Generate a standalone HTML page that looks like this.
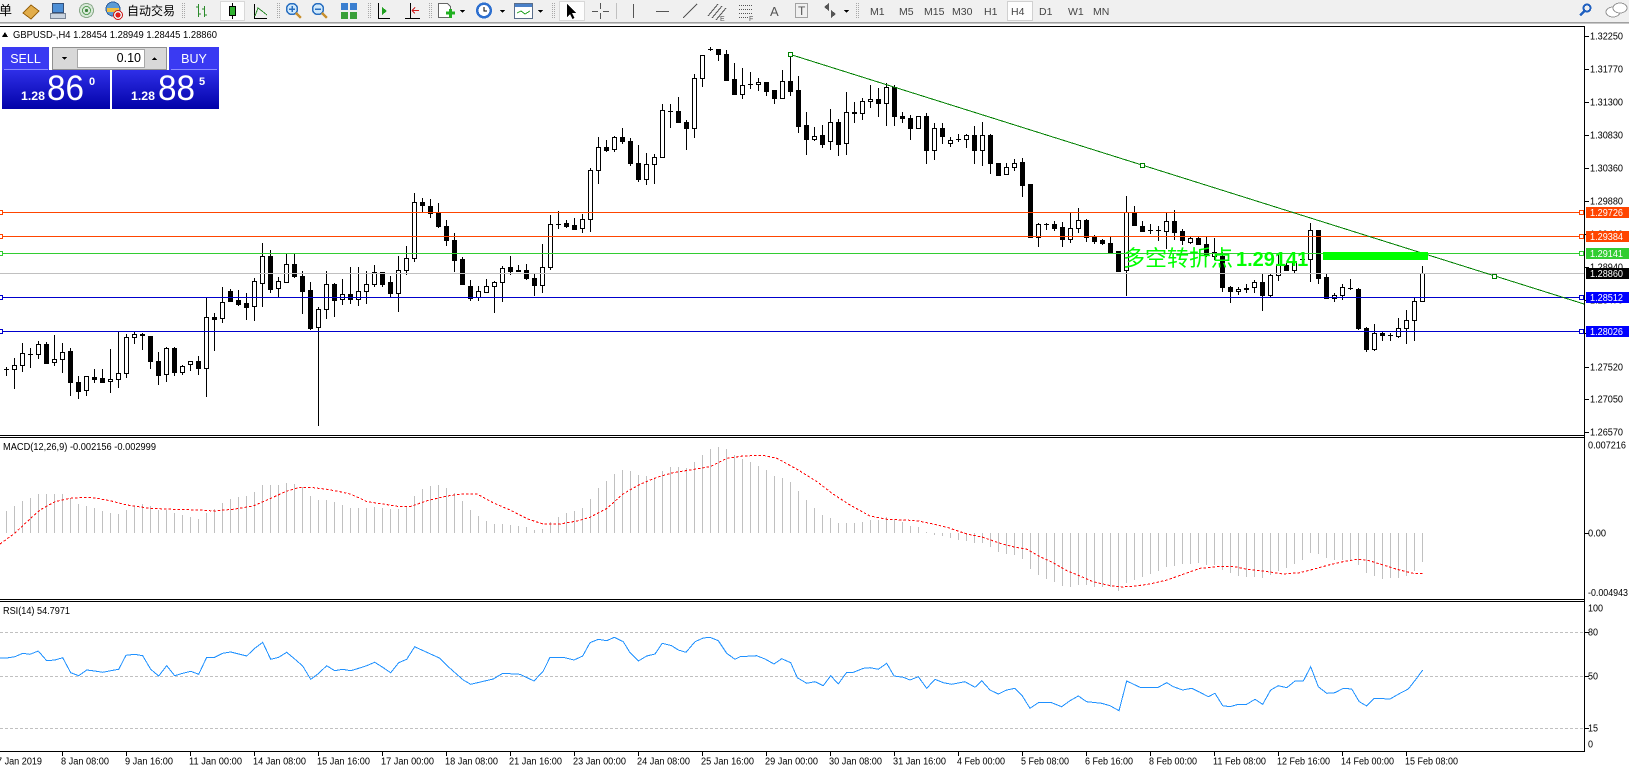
<!DOCTYPE html>
<html><head><meta charset="utf-8"><style>
html,body{margin:0;padding:0;background:#fff;width:1629px;height:770px;overflow:hidden}
svg{display:block}
text{font-family:"Liberation Sans","Noto Sans CJK SC",sans-serif}
</style></head><body>
<svg xmlns="http://www.w3.org/2000/svg" width="1629" height="770" viewBox="0 0 1629 770" shape-rendering="crispEdges">
<defs>
<linearGradient id="bg" x1="0" y1="0" x2="0" y2="1"><stop offset="0" stop-color="#2f2fe8"/><stop offset="1" stop-color="#0202a8"/></linearGradient>
</defs>
<rect width="1629" height="770" fill="#fff"/>
<!-- toolbar -->
<rect width="1629" height="22" fill="#f0f0f0"/>
<rect y="22" width="1629" height="1" fill="#a0a0a0"/>
<rect y="23" width="1629" height="1" fill="#c8c8c8"/>
<text x="-1" y="15" font-size="13">单</text>
<path d="M23 13L31 5L39 11L31 19Z" fill="#e2ad4a" stroke="#9a6510"/>
<rect x="52.5" y="3.5" width="11" height="9" fill="#4d8fd6" stroke="#33507a"/><rect x="50.5" y="13.5" width="15" height="5" fill="#c9d3df" stroke="#7a8696"/>
<circle cx="86.5" cy="10.5" r="7" fill="#d8e8d8" stroke="#88a888"/><circle cx="86.5" cy="10.5" r="4" fill="none" stroke="#5aa05a"/><circle cx="86.5" cy="10.5" r="1.5" fill="#3a803a"/>
<circle cx="113" cy="9" r="7" fill="#5b9bd5" stroke="#2f5f9f"/><path d="M107 8h12v4h-12z" fill="#f0c040"/><circle cx="118" cy="15" r="4.5" fill="#e8e8e8" stroke="#d02020"/><circle cx="118" cy="15" r="2.5" fill="#e02020"/>
<text x="127" y="15" font-size="12">自动交易</text>
<path d="M182.5 3V19M184.5 3V19M277.5 3V19M279.5 3V19M368.5 3V19M370.5 3V19M429.5 3V19M431.5 3V19M552.5 3V19M554.5 3V19M856.5 3V19M858.5 3V19" stroke="#a8a8a8" stroke-dasharray="1 1"/>
<path d="M616.5 3V19" stroke="#c0c0c0"/>
<path d="M198.5 4V17M196 7h2.5M198.5 14h2.5M204.5 6V17M202 9h2.5M204.5 15h2.5" stroke="#2a8a2a"/>
<rect x="220.5" y="1.5" width="24" height="19" fill="#fdfdfd" stroke="#d8d8d8"/><path d="M232.5 3V19" stroke="#000"/><rect x="229.5" y="6.5" width="6" height="9" fill="#30b030" stroke="#000"/>
<path d="M254.5 4V18.5H267" stroke="#000" fill="none"/><path d="M255 16L258 8L262 11L267 15" stroke="#2a8a2a" fill="none"/>
<circle cx="292" cy="9" r="5.5" fill="#cfe8fb" stroke="#2a6fc0" stroke-width="1.5"/><path d="M296 13L301 18" stroke="#c89030" stroke-width="2.5"/><path d="M289 9h6M292 6v6" stroke="#2a6fc0" stroke-width="1.5"/>
<circle cx="318" cy="9" r="5.5" fill="#cfe8fb" stroke="#2a6fc0" stroke-width="1.5"/><path d="M322 13L327 18" stroke="#c89030" stroke-width="2.5"/><path d="M315 9h6" stroke="#2a6fc0" stroke-width="1.5"/>
<rect x="341" y="3" width="7" height="7" fill="#3a7fd0"/><rect x="350" y="3" width="7" height="7" fill="#3a7fd0"/><rect x="341" y="12" width="7" height="7" fill="#3aa03a"/><rect x="350" y="12" width="7" height="7" fill="#3aa03a"/>
<path d="M378.5 3V18.5H390" stroke="#000" fill="none"/><path d="M382 7L387 11L382 15Z" fill="#20a020"/>
<path d="M410.5 3V19M405 18.5H420" stroke="#000"/><path d="M412 10.5H419M412 10.5l3-3M412 10.5l3 3" stroke="#d02020"/>
<path d="M438.5 3.5h9l3 3v11h-12z" fill="#fff" stroke="#666"/><path d="M446 13h9M450.5 9v9" stroke="#20b020" stroke-width="3"/><path d="M460 10h5l-2.5 3z" fill="#000"/>
<circle cx="484" cy="10.5" r="8" fill="#2d6fcf"/><circle cx="484" cy="10.5" r="5.5" fill="#fff"/><path d="M484 7v4h3" stroke="#000" fill="none"/><path d="M500 10h5l-2.5 3z" fill="#000"/>
<rect x="514.5" y="3.5" width="18" height="15" fill="#fff" stroke="#5a6e8a"/><rect x="515" y="4" width="17" height="3" fill="#4a80c8"/><path d="M517 13l4-2 4 3 5-3" stroke="#20a020" fill="none"/><path d="M538 10h5l-2.5 3z" fill="#000"/>
<rect x="559.5" y="1.5" width="25" height="19" fill="#fdfdfd" stroke="#d8d8d8"/><path d="M567 4v13l3-3 2.5 5 2-1-2.5-5h4z" fill="#000"/>
<path d="M600.5 3V9M600.5 13V19M592 11.5H598M603 11.5H609" stroke="#555"/>
<path d="M633.5 4V18M656 11.5h13" stroke="#555"/>
<path d="M683 18L697 4M708 16L718 4M712 18L722 6M716 20L726 8" stroke="#555"/>
<text x="720" y="21" font-size="7" fill="#555">E</text>
<path d="M739 5.5h13M739 9.5h13M739 13.5h13M739 17.5h9" stroke="#555" stroke-dasharray="1 1"/>
<text x="749" y="21" font-size="7" fill="#555">F</text>
<text x="770" y="16" font-size="13" fill="#555">A</text>
<rect x="795.5" y="3.5" width="12" height="14" fill="none" stroke="#555" stroke-dasharray="1 1"/><text x="798" y="15" font-size="12" fill="#555">T</text>
<path d="M824 7l5-4v8z M836 14l-5 4v-8z" fill="#555"/><path d="M844 10h5l-2.5 3z" fill="#000"/>
<rect x="1007.5" y="1.5" width="25" height="19" fill="#fdfdfd" stroke="#d0d0d0"/>
<g font-size="10.5" fill="#444">
<text x="870" y="15">M1</text><text x="899" y="15">M5</text><text x="924" y="15">M15</text><text x="952" y="15">M30</text><text x="984" y="15">H1</text><text x="1011" y="15">H4</text><text x="1039" y="15">D1</text><text x="1068" y="15">W1</text><text x="1093" y="15">MN</text>
</g>
<circle cx="1587" cy="8" r="3.5" fill="none" stroke="#2060c0" stroke-width="2"/><path d="M1584.5 11L1580 15.5" stroke="#2060c0" stroke-width="2.5"/>
<ellipse cx="1613" cy="12" rx="7" ry="5" fill="#fff" stroke="#999"/><ellipse cx="1620" cy="8" rx="7" ry="5" fill="#fff" stroke="#999"/>

<!-- window frames -->
<path d="M0 26.5H1584.5V751.5H0M0 435.5H1584.5M0 437.5H1584.5M0 599.5H1584.5M0 601.5H1584.5" stroke="#000" fill="none"/>

<!-- price axis -->
<path d="M1585 36.5h4M1585 69.5h4M1585 102.5h4M1585 135.5h4M1585 168.5h4M1585 201.5h4M1585 234.5h4M1585 267.5h4M1585 300.5h4M1585 333.5h4M1585 367.5h4M1585 399.5h4M1585 432.5h4" stroke="#000"/>
<g font-size="10" fill="#000" lengthAdjust="spacingAndGlyphs">
<text x="1590" y="39.5" textLength="33" lengthAdjust="spacingAndGlyphs">1.32250</text>
<text x="1590" y="72.5" textLength="33" lengthAdjust="spacingAndGlyphs">1.31770</text>
<text x="1590" y="105.5" textLength="33" lengthAdjust="spacingAndGlyphs">1.31300</text>
<text x="1590" y="138.5" textLength="33" lengthAdjust="spacingAndGlyphs">1.30830</text>
<text x="1590" y="171.5" textLength="33" lengthAdjust="spacingAndGlyphs">1.30360</text>
<text x="1590" y="204.5" textLength="33" lengthAdjust="spacingAndGlyphs">1.29880</text>
<text x="1590" y="237.5" textLength="33" lengthAdjust="spacingAndGlyphs">1.29410</text>
<text x="1590" y="270.5" textLength="33" lengthAdjust="spacingAndGlyphs">1.28940</text>
<text x="1590" y="303.5" textLength="33" lengthAdjust="spacingAndGlyphs">1.28470</text>
<text x="1590" y="336.5" textLength="33" lengthAdjust="spacingAndGlyphs">1.28000</text>
<text x="1590" y="370.5" textLength="33" lengthAdjust="spacingAndGlyphs">1.27520</text>
<text x="1590" y="402.5" textLength="33" lengthAdjust="spacingAndGlyphs">1.27050</text>
<text x="1590" y="435.5" textLength="33" lengthAdjust="spacingAndGlyphs">1.26570</text>
</g>

<!-- candles -->
<path d="M-1.5 369V382M6.5 367V376M14.5 358V389M22.5 343V372M30.5 348V368M38.5 341V359M46.5 342V364M54.5 335V366M62.5 343V373M70.5 348V396M78.5 376V399M86.5 376V396M94.5 369V383M102.5 369V383M110.5 349V393M118.5 331V388M126.5 334V378M134.5 331V344M142.5 333V350M150.5 336V369M158.5 352V385M166.5 347V382M174.5 347V376M182.5 365V375M190.5 361V371M198.5 356V375M206.5 297V397M214.5 313V351M222.5 287V323M230.5 289V301M238.5 290V306M246.5 293V320M254.5 278V321M262.5 243V307M270.5 250V293M278.5 277V297M286.5 253V282M294.5 253V278M302.5 271V314M310.5 282V330M318.5 307V426M326.5 271V319M334.5 283V317M342.5 279V305M350.5 267V304M358.5 267V306M366.5 271V304M374.5 265V287M382.5 272V287M390.5 276V298M398.5 256V312M406.5 246V275M414.5 193V262M422.5 198V213M430.5 199V218M438.5 203V228M446.5 220V246M454.5 233V272M462.5 257V285M470.5 280V301M478.5 286V301M486.5 279V293M494.5 281V313M502.5 266V302M510.5 256V275M518.5 265V272M526.5 264V280M534.5 274V296M542.5 244V293M550.5 215V270M558.5 211V229M566.5 220V228M574.5 218V230M582.5 214V233M590.5 168V232M598.5 137V184M606.5 140V152M614.5 136V152M622.5 128V144M630.5 138V166M638.5 145V182M646.5 153V185M654.5 154V184M662.5 104V158M670.5 104V128M678.5 97V123M686.5 120V150M694.5 74V138M702.5 55V87M710.5 47V51M718.5 49V61M726.5 50V80M734.5 63V94M742.5 68V99M750.5 72V89M758.5 78V91M766.5 82V96M774.5 90V104M782.5 70V98M790.5 54V96M798.5 76V133M806.5 112V155M814.5 127V141M822.5 125V148M830.5 109V150M838.5 119V156M846.5 92V155M854.5 102V123M862.5 98V120M870.5 85V108M878.5 88V117M886.5 83V126M894.5 85V126M902.5 112V123M910.5 115V140M918.5 116V129M926.5 113V164M934.5 123V160M942.5 123V144M950.5 137V147M958.5 134V142M966.5 134V148M974.5 126V164M982.5 122V166M990.5 134V174M998.5 163V175M1006.5 163V174M1014.5 159V171M1022.5 158V197M1030.5 184V238M1038.5 223V247M1046.5 223V230M1054.5 221V231M1062.5 222V247M1070.5 212V243M1078.5 208V233M1086.5 219V242M1094.5 235V244M1102.5 239V245M1110.5 237V253M1118.5 251V271M1126.5 196V296M1134.5 206V225M1142.5 221V232M1150.5 224V234M1158.5 226V241M1166.5 213V249M1174.5 210V240M1182.5 229V245M1190.5 236V244M1198.5 237V245M1206.5 236V257M1214.5 238V260M1222.5 252V292M1230.5 286V303M1238.5 287V295M1246.5 284V293M1254.5 280V293M1262.5 274V311M1270.5 273V298M1278.5 255V281M1286.5 263V271M1294.5 260V273M1302.5 256V261M1310.5 223V282M1318.5 230V284M1326.5 273V299M1334.5 293V302M1342.5 284V300M1350.5 279V290M1358.5 288V330M1366.5 327V352M1374.5 324V351M1382.5 331V341M1390.5 333V341M1398.5 318V338M1406.5 310V344M1414.5 298V341M1422.5 266V302" stroke="#000" fill="none"/>
<path d="M4 369.5h5M28 354.5h5M556 224.5h5M668 111.5h5M708 49.5h5M748 84.5h5M956 139.5h5M1044 224.5h5M1148 230.5h5M1156 230.5h5M1300 259.5h5M1348 288.5h5M1388 335.5h5" stroke="#000" fill="none"/>
<path fill="#fff" stroke="#000" d="M12.5 365.5h4v4h-4zM20.5 353.5h4v12h-4zM36.5 344.5h4v10h-4zM52.5 359.5h4v3h-4zM60.5 352.5h4v7h-4zM84.5 376.5h4v14h-4zM108.5 379.5h4v2h-4zM116.5 373.5h4v6h-4zM124.5 337.5h4v36h-4zM132.5 334.5h4v3h-4zM164.5 348.5h4v26h-4zM180.5 366.5h4v6h-4zM188.5 361.5h4v3h-4zM204.5 317.5h4v51h-4zM220.5 302.5h4v16h-4zM252.5 281.5h4v25h-4zM260.5 256.5h4v27h-4zM276.5 281.5h4v7h-4zM284.5 264.5h4v18h-4zM316.5 309.5h4v18h-4zM324.5 284.5h4v25h-4zM340.5 294.5h4v5h-4zM356.5 291.5h4v8h-4zM364.5 284.5h4v7h-4zM372.5 272.5h4v12h-4zM396.5 270.5h4v23h-4zM404.5 258.5h4v12h-4zM412.5 202.5h4v56h-4zM476.5 291.5h4v6h-4zM484.5 286.5h4v6h-4zM492.5 282.5h4v4h-4zM500.5 268.5h4v14h-4zM540.5 267.5h4v18h-4zM548.5 224.5h4v43h-4zM580.5 219.5h4v9h-4zM588.5 170.5h4v49h-4zM596.5 147.5h4v23h-4zM612.5 137.5h4v12h-4zM644.5 164.5h4v15h-4zM652.5 157.5h4v7h-4zM660.5 110.5h4v47h-4zM692.5 78.5h4v50h-4zM700.5 55.5h4v23h-4zM740.5 85.5h4v9h-4zM756.5 82.5h4v2h-4zM780.5 81.5h4v17h-4zM812.5 136.5h4v3h-4zM828.5 122.5h4v19h-4zM844.5 112.5h4v31h-4zM860.5 101.5h4v12h-4zM868.5 99.5h4v2h-4zM884.5 87.5h4v16h-4zM916.5 116.5h4v12h-4zM932.5 128.5h4v22h-4zM948.5 140.5h4v3h-4zM964.5 135.5h4v4h-4zM980.5 135.5h4v15h-4zM1004.5 167.5h4v7h-4zM1012.5 163.5h4v4h-4zM1036.5 224.5h4v13h-4zM1068.5 228.5h4v11h-4zM1076.5 220.5h4v8h-4zM1124.5 212.5h4v58h-4zM1164.5 221.5h4v10h-4zM1188.5 238.5h4v4h-4zM1212.5 252.5h4v4h-4zM1236.5 289.5h4v2h-4zM1252.5 282.5h4v5h-4zM1268.5 275.5h4v20h-4zM1276.5 265.5h4v10h-4zM1292.5 262.5h4v8h-4zM1308.5 230.5h4v29h-4zM1332.5 295.5h4v3h-4zM1340.5 287.5h4v8h-4zM1372.5 333.5h4v16h-4zM1396.5 328.5h4v8h-4zM1404.5 320.5h4v8h-4zM1412.5 301.5h4v19h-4zM1420.5 273.5h4v28h-4z"/>
<path fill="#000" stroke="#000" d="M44.5 344.5h4v19h-4zM68.5 351.5h4v31h-4zM76.5 382.5h4v9h-4zM92.5 377.5h4v2h-4zM100.5 378.5h4v4h-4zM140.5 334.5h4v1h-4zM148.5 336.5h4v25h-4zM156.5 361.5h4v14h-4zM172.5 348.5h4v24h-4zM196.5 361.5h4v7h-4zM212.5 317.5h4v2h-4zM228.5 291.5h4v10h-4zM236.5 300.5h4v4h-4zM244.5 303.5h4v4h-4zM268.5 256.5h4v33h-4zM292.5 264.5h4v12h-4zM300.5 276.5h4v15h-4zM308.5 290.5h4v38h-4zM332.5 284.5h4v16h-4zM348.5 294.5h4v5h-4zM380.5 272.5h4v12h-4zM388.5 282.5h4v11h-4zM420.5 202.5h4v3h-4zM428.5 206.5h4v7h-4zM436.5 213.5h4v13h-4zM444.5 226.5h4v14h-4zM452.5 240.5h4v20h-4zM460.5 259.5h4v25h-4zM468.5 286.5h4v12h-4zM508.5 267.5h4v4h-4zM516.5 270.5h4v1h-4zM524.5 270.5h4v8h-4zM532.5 278.5h4v7h-4zM564.5 223.5h4v3h-4zM572.5 225.5h4v4h-4zM604.5 147.5h4v3h-4zM620.5 137.5h4v4h-4zM628.5 141.5h4v22h-4zM636.5 163.5h4v16h-4zM676.5 111.5h4v11h-4zM684.5 122.5h4v6h-4zM716.5 49.5h4v5h-4zM724.5 54.5h4v26h-4zM732.5 79.5h4v15h-4zM764.5 82.5h4v9h-4zM772.5 90.5h4v8h-4zM788.5 81.5h4v10h-4zM796.5 90.5h4v36h-4zM804.5 125.5h4v14h-4zM820.5 135.5h4v9h-4zM836.5 122.5h4v22h-4zM852.5 112.5h4v1h-4zM876.5 99.5h4v4h-4zM892.5 87.5h4v29h-4zM900.5 116.5h4v2h-4zM908.5 118.5h4v10h-4zM924.5 116.5h4v34h-4zM940.5 128.5h4v8h-4zM972.5 135.5h4v15h-4zM988.5 135.5h4v28h-4zM996.5 163.5h4v12h-4zM1020.5 162.5h4v23h-4zM1028.5 184.5h4v53h-4zM1052.5 224.5h4v4h-4zM1060.5 227.5h4v12h-4zM1084.5 220.5h4v17h-4zM1092.5 237.5h4v4h-4zM1100.5 240.5h4v3h-4zM1108.5 243.5h4v10h-4zM1116.5 251.5h4v20h-4zM1132.5 212.5h4v13h-4zM1140.5 226.5h4v5h-4zM1172.5 221.5h4v11h-4zM1180.5 231.5h4v9h-4zM1196.5 238.5h4v6h-4zM1204.5 244.5h4v11h-4zM1220.5 256.5h4v31h-4zM1228.5 287.5h4v4h-4zM1244.5 288.5h4v1h-4zM1260.5 282.5h4v13h-4zM1284.5 265.5h4v5h-4zM1316.5 230.5h4v48h-4zM1324.5 277.5h4v21h-4zM1356.5 289.5h4v39h-4zM1364.5 328.5h4v21h-4zM1380.5 333.5h4v2h-4z"/>

<!-- horizontal lines -->
<path d="M0 212.5H1584M0 236.5H1584" stroke="#ff4500"/>
<path d="M0 253.5H1584" stroke="#32cd32"/>
<path d="M0 273.5H1584" stroke="#c0c0c0"/>
<path d="M0 297.5H1584M0 331.5H1584" stroke="#0000cd"/>
<g fill="#fff">
<rect x="-1.5" y="210.5" width="4" height="4" stroke="#ff4500"/><rect x="1579.5" y="210.5" width="4" height="4" stroke="#ff4500"/>
<rect x="-1.5" y="234.5" width="4" height="4" stroke="#ff4500"/><rect x="1579.5" y="234.5" width="4" height="4" stroke="#ff4500"/>
<rect x="-1.5" y="251.5" width="4" height="4" stroke="#32cd32"/><rect x="1579.5" y="251.5" width="4" height="4" stroke="#32cd32"/>
<rect x="-1.5" y="295.5" width="4" height="4" stroke="#0000cd"/><rect x="1579.5" y="295.5" width="4" height="4" stroke="#0000cd"/>
<rect x="-1.5" y="329.5" width="4" height="4" stroke="#0000cd"/><rect x="1579.5" y="329.5" width="4" height="4" stroke="#0000cd"/>
</g>
<!-- trendline -->
<path d="M790.5 54.5L1584 304" stroke="#008000" fill="none"/>
<g fill="#fff" stroke="#008000">
<rect x="788.5" y="52.5" width="4" height="4"/><rect x="1140.5" y="163.5" width="4" height="4"/><rect x="1492.5" y="274.5" width="4" height="4"/>
</g>
<rect x="1323" y="252" width="105" height="8" fill="#00ff00"/>
<text x="1123" y="266" fill="#00ff00"><tspan font-size="22">多空转折点</tspan><tspan x="1236" font-size="20" font-weight="bold">1.29141</tspan></text>

<!-- price labels -->
<rect x="1586" y="207" width="43" height="11" fill="#ff4500"/>
<rect x="1586" y="231" width="43" height="11" fill="#ff4500"/>
<rect x="1586" y="248" width="43" height="11" fill="#32cd32"/>
<rect x="1586" y="268" width="43" height="11" fill="#000"/>
<rect x="1586" y="292" width="43" height="11" fill="#0000ff"/>
<rect x="1586" y="326" width="43" height="11" fill="#0000ff"/>
<g font-size="10" fill="#fff">
<text x="1590" y="216" textLength="33" lengthAdjust="spacingAndGlyphs">1.29726</text>
<text x="1590" y="240" textLength="33" lengthAdjust="spacingAndGlyphs">1.29384</text>
<text x="1590" y="257" textLength="33" lengthAdjust="spacingAndGlyphs">1.29141</text>
<text x="1590" y="277" textLength="33" lengthAdjust="spacingAndGlyphs">1.28860</text>
<text x="1590" y="301" textLength="33" lengthAdjust="spacingAndGlyphs">1.28512</text>
<text x="1590" y="335" textLength="33" lengthAdjust="spacingAndGlyphs">1.28026</text>
</g>

<!-- header -->
<path d="M2 37H8L5 32Z" fill="#000"/>
<text x="13" y="38" font-size="10" textLength="204" lengthAdjust="spacingAndGlyphs">GBPUSD-,H4 1.28454 1.28949 1.28445 1.28860</text>

<!-- trade panel -->
<path d="M2 70H110V109H2Z" fill="url(#bg)"/>
<path d="M112 70H219V109H112Z" fill="url(#bg)"/>
<rect x="2" y="47" width="47" height="23" fill="#3a3af2"/>
<rect x="169" y="47" width="50" height="23" fill="#3a3af2"/>
<path d="M4 69.5H48M171 69.5H217" stroke="#8c8cff"/>
<rect x="52.5" y="47.5" width="114" height="22" fill="#d8d8d8" stroke="#909090"/>
<rect x="77.5" y="49.5" width="67" height="18" fill="#fff" stroke="#a8a8a8"/>
<path d="M62 57h5l-2.5 3z" fill="#000"/><path d="M152 60h5l-2.5-3z" fill="#000"/>
<text x="141" y="62" font-size="12.5" text-anchor="end">0.10</text>
<text x="25.5" y="63" font-size="12.5" fill="#fff" text-anchor="middle">SELL</text>
<text x="194" y="63" font-size="12.5" fill="#fff" text-anchor="middle">BUY</text>
<g fill="#fff">
<text x="21" y="100" font-size="12" font-weight="bold" textLength="24" lengthAdjust="spacingAndGlyphs">1.28</text>
<text x="47" y="100" font-size="35" textLength="37" lengthAdjust="spacingAndGlyphs">86</text>
<text x="89" y="85" font-size="11" font-weight="bold">0</text>
<text x="131" y="100" font-size="12" font-weight="bold" textLength="24" lengthAdjust="spacingAndGlyphs">1.28</text>
<text x="158" y="100" font-size="35" textLength="37" lengthAdjust="spacingAndGlyphs">88</text>
<text x="199" y="85" font-size="11" font-weight="bold">5</text>
</g>

<!-- MACD -->
<text x="3" y="450" font-size="10" textLength="153" lengthAdjust="spacingAndGlyphs">MACD(12,26,9) -0.002156 -0.002999</text>
<path stroke="#c0c0c0" fill="none" d="M6.5 533V511M14.5 533V506M22.5 533V501M30.5 533V498M38.5 533V494M46.5 533V494M54.5 533V494M62.5 533V494M70.5 533V498M78.5 533V504M86.5 533V506M94.5 533V508M102.5 533V511M110.5 533V513M118.5 533V514M126.5 533V510M134.5 533V506M142.5 533V504M150.5 533V506M158.5 533V510M166.5 533V510M174.5 533V513M182.5 533V515M190.5 533V517M198.5 533V519M206.5 533V513M214.5 533V509M222.5 533V503M230.5 533V499M238.5 533V497M246.5 533V496M254.5 533V492M262.5 533V485M270.5 533V485M278.5 533V485M286.5 533V483M294.5 533V484M302.5 533V487M310.5 533V496M318.5 533V500M326.5 533V500M334.5 533V502M342.5 533V505M350.5 533V508M358.5 533V508M366.5 533V508M374.5 533V507M382.5 533V508M390.5 533V509M398.5 533V509M406.5 533V507M414.5 533V496M422.5 533V489M430.5 533V486M438.5 533V485M446.5 533V488M454.5 533V493M462.5 533V501M470.5 533V510M478.5 533V516M486.5 533V521M494.5 533V524M502.5 533V524M510.5 533V525M518.5 533V526M526.5 533V527M534.5 533V530M542.5 533V529M550.5 533V522M558.5 533V517M566.5 533V513M574.5 533V511M582.5 533V508M590.5 533V499M598.5 533V488M606.5 533V481M614.5 533V474M622.5 533V470M630.5 533V471M638.5 533V475M646.5 533V476M654.5 533V478M662.5 533V471M670.5 533V467M678.5 533V467M686.5 533V468M694.5 533V462M702.5 533V455M710.5 533V449M718.5 533V447M726.5 533V449M734.5 533V455M742.5 533V459M750.5 533V462M758.5 533V466M766.5 533V470M774.5 533V476M782.5 533V478M790.5 533V482M798.5 533V491M806.5 533V500M814.5 533V508M822.5 533V515M830.5 533V518M838.5 533V523M846.5 533V523M854.5 533V523M862.5 533V522M870.5 533V520M878.5 533V520M886.5 533V517M894.5 533V520M902.5 533V522M910.5 533V526M918.5 533V527M926.5 533V532M934.5 533V535M942.5 533V536M950.5 533V538M958.5 533V540M966.5 533V541M974.5 533V543M982.5 533V543M990.5 533V547M998.5 533V552M1006.5 533V554M1014.5 533V555M1022.5 533V559M1030.5 533V569M1038.5 533V575M1046.5 533V579M1054.5 533V582M1062.5 533V586M1070.5 533V587M1078.5 533V585M1086.5 533V585M1094.5 533V587M1102.5 533V587M1110.5 533V587M1118.5 533V591M1126.5 533V583M1134.5 533V580M1142.5 533V577M1150.5 533V574M1158.5 533V571M1166.5 533V567M1174.5 533V566M1182.5 533V564M1190.5 533V564M1198.5 533V563M1206.5 533V565M1214.5 533V565M1222.5 533V570M1230.5 533V573M1238.5 533V576M1246.5 533V577M1254.5 533V577M1262.5 533V578M1270.5 533V575M1278.5 533V571M1286.5 533V568M1294.5 533V564M1302.5 533V560M1310.5 533V553M1318.5 533V554M1326.5 533V558M1334.5 533V560M1342.5 533V560M1350.5 533V560M1358.5 533V565M1366.5 533V573M1374.5 533V576M1382.5 533V579M1390.5 533V578M1398.5 533V578M1406.5 533V576M1414.5 533V571M1422.5 533V562"/>
<polyline fill="none" stroke="#ff0000" stroke-dasharray="2.5 2" points="0,544 15,533 30,519 40,510 47,506 55,501.7 70,498.3 87,497.3 97,498.3 110,500.7 127,505 150,508.3 173,509.3 200,510 213,511 233,509.3 253,506 267,500 287,491 300,487.3 310,487.3 327,489.3 340,491.7 350,494 360,498.3 367,501.7 383,504 400,506.7 410,506.7 427,500.7 447,496 463,494 477,494 493,502.7 510,510 527,518.7 543,524 560,524 577,521 590,517.3 607,508.3 623,494 640,484.3 657,477.3 673,472.7 690,470 710,466.7 727,458.3 743,456 763,455.3 777,458.3 797,469.3 817,481.7 833,494 850,505 870,516 887,519.3 910,520.3 920,521.3 933,524 947,527.3 967,534 983,537.3 1000,543.3 1013,546.7 1027,549.3 1040,556.7 1053,562.7 1067,570.7 1080,576 1093,581.7 1107,585 1120,587 1133,586.3 1150,584 1167,580 1183,574.3 1200,568.3 1217,566.7 1233,566.3 1247,569.3 1263,571 1283,574 1300,572.7 1313,569.3 1330,564.7 1343,561.7 1357,559.3 1367,560 1380,564 1397,569.3 1413,573.3 1423,573.3"/>
<path d="M1585 533.5h4" stroke="#000"/>
<g font-size="10">
<text x="1588" y="448.5" textLength="38" lengthAdjust="spacingAndGlyphs">0.007216</text>
<text x="1588" y="536.5" textLength="18" lengthAdjust="spacingAndGlyphs">0.00</text>
<text x="1588" y="596" textLength="40" lengthAdjust="spacingAndGlyphs">-0.004943</text>
</g>

<!-- RSI -->
<text x="3" y="614" font-size="10" textLength="67" lengthAdjust="spacingAndGlyphs">RSI(14) 54.7971</text>
<path d="M0 632.5H1584M0 676.5H1584M0 728.5H1584" stroke="#c0c0c0" stroke-dasharray="3 2"/>
<polyline fill="none" stroke="#1e90ff" points="0,658 6.7,658 15,656.7 22.7,653.3 30,654.3 38.3,651 46.7,660.7 55,660 62.7,657.7 70.7,672.7 78.7,675.7 86.7,670 94.7,671 102.7,672.3 110.7,670.7 118.7,669.3 126,655.3 134.7,654.3 142.7,655.7 150.7,669.3 158.7,676 166.7,665.7 174.7,675.7 182.7,673.3 190.7,671.3 198.7,674.3 206.7,657.3 214.7,657.3 222.7,653.3 230.7,652 238.7,654 246.7,656 254.7,648.3 262.7,642.3 270.7,659.3 278.7,657.3 286.7,652.3 294.7,659 302.7,666 310.7,679.3 318.7,673.3 326.7,665.7 334.7,670.7 342.7,669.3 350.7,670.7 358.7,668.3 366.7,665.7 374.7,662.3 382.7,667.3 390.7,672.7 398.7,662.7 406.7,659.3 414.7,646.7 418,648.3 440,658.3 450,668.3 463.3,680 470.7,684.3 493.3,679 502.7,673.3 520,674.3 534,681 543.3,671 550,657.3 563.3,657.3 574,660 582.7,656 590,642.7 598.3,639.3 606.7,640.7 614.3,637.3 623.3,641.7 630,652.7 638.3,661 646.7,656 655,654 662.3,643.3 671.7,645.7 678.3,650 686,652.3 695,641.7 703.3,638 710,637.3 718.3,640.7 726.7,653.3 735,659.3 740,656.7 756.7,655.7 765,659 774,664 781.7,658.7 790.7,662.7 797.3,677.7 806.7,683.3 815,681.7 823.3,685.7 830.7,675.7 838.3,684 846.7,672.3 853.3,672.3 863.3,668.3 870,667.7 878.3,669.3 886.7,663.3 894,676 903.3,677.3 910,680 918.3,676.7 926.7,688.3 935,679.3 943.3,682.7 951.7,684.3 965,681.7 975,687.3 981.7,680.7 990,690 998.3,694 1006.7,690 1015,688.3 1021.7,695 1030,708.3 1038.3,702.7 1051.7,702.7 1061.7,706.7 1070,700.7 1078.3,696 1086.7,701.7 1101.7,703.3 1110,705.7 1119,710.7 1126.7,681 1140,687.3 1158.3,687.3 1166.7,682.7 1173.3,686.7 1182.7,690 1191.7,688.3 1200,692.3 1208.3,696.7 1215,693.3 1222.7,705.7 1230,706.7 1238.3,704.3 1246.7,704.3 1255,699.3 1262.7,704.3 1270.7,690 1278.3,685.7 1286.7,687.7 1295,681 1303.3,681 1310.7,666.7 1318.3,686.7 1326.7,693.3 1335,692.7 1343.3,688.3 1351.7,689 1359.3,701.7 1366.7,706 1374,698.3 1390,699 1400,693.3 1408.3,689 1416.7,678.3 1422.7,670"/>
<path d="M1585 632.5h4M1585 676.5h4M1585 728.5h4" stroke="#000"/>
<g font-size="10">
<text x="1588" y="611.5" textLength="15" lengthAdjust="spacingAndGlyphs">100</text>
<text x="1588" y="635.5" textLength="10" lengthAdjust="spacingAndGlyphs">80</text>
<text x="1588" y="679.5" textLength="10" lengthAdjust="spacingAndGlyphs">50</text>
<text x="1588" y="731.5" textLength="10" lengthAdjust="spacingAndGlyphs">15</text>
<text x="1588" y="747.5" textLength="5" lengthAdjust="spacingAndGlyphs">0</text>
</g>

<!-- time axis -->
<path d="M-1.5 752V756M62.5 752V756M126.5 752V756M190.5 752V756M254.5 752V756M318.5 752V756M382.5 752V756M446.5 752V756M510.5 752V756M574.5 752V756M638.5 752V756M702.5 752V756M766.5 752V756M830.5 752V756M894.5 752V756M958.5 752V756M1022.5 752V756M1086.5 752V756M1150.5 752V756M1214.5 752V756M1278.5 752V756M1342.5 752V756M1406.5 752V756" stroke="#000"/>
<g font-size="10">
<text x="-3" y="764.5" textLength="45" lengthAdjust="spacingAndGlyphs">7 Jan 2019</text>
<text x="61" y="764.5" textLength="48" lengthAdjust="spacingAndGlyphs">8 Jan 08:00</text>
<text x="125" y="764.5" textLength="48" lengthAdjust="spacingAndGlyphs">9 Jan 16:00</text>
<text x="189" y="764.5" textLength="53" lengthAdjust="spacingAndGlyphs">11 Jan 00:00</text>
<text x="253" y="764.5" textLength="53" lengthAdjust="spacingAndGlyphs">14 Jan 08:00</text>
<text x="317" y="764.5" textLength="53" lengthAdjust="spacingAndGlyphs">15 Jan 16:00</text>
<text x="381" y="764.5" textLength="53" lengthAdjust="spacingAndGlyphs">17 Jan 00:00</text>
<text x="445" y="764.5" textLength="53" lengthAdjust="spacingAndGlyphs">18 Jan 08:00</text>
<text x="509" y="764.5" textLength="53" lengthAdjust="spacingAndGlyphs">21 Jan 16:00</text>
<text x="573" y="764.5" textLength="53" lengthAdjust="spacingAndGlyphs">23 Jan 00:00</text>
<text x="637" y="764.5" textLength="53" lengthAdjust="spacingAndGlyphs">24 Jan 08:00</text>
<text x="701" y="764.5" textLength="53" lengthAdjust="spacingAndGlyphs">25 Jan 16:00</text>
<text x="765" y="764.5" textLength="53" lengthAdjust="spacingAndGlyphs">29 Jan 00:00</text>
<text x="829" y="764.5" textLength="53" lengthAdjust="spacingAndGlyphs">30 Jan 08:00</text>
<text x="893" y="764.5" textLength="53" lengthAdjust="spacingAndGlyphs">31 Jan 16:00</text>
<text x="957" y="764.5" textLength="48" lengthAdjust="spacingAndGlyphs">4 Feb 00:00</text>
<text x="1021" y="764.5" textLength="48" lengthAdjust="spacingAndGlyphs">5 Feb 08:00</text>
<text x="1085" y="764.5" textLength="48" lengthAdjust="spacingAndGlyphs">6 Feb 16:00</text>
<text x="1149" y="764.5" textLength="48" lengthAdjust="spacingAndGlyphs">8 Feb 00:00</text>
<text x="1213" y="764.5" textLength="53" lengthAdjust="spacingAndGlyphs">11 Feb 08:00</text>
<text x="1277" y="764.5" textLength="53" lengthAdjust="spacingAndGlyphs">12 Feb 16:00</text>
<text x="1341" y="764.5" textLength="53" lengthAdjust="spacingAndGlyphs">14 Feb 00:00</text>
<text x="1405" y="764.5" textLength="53" lengthAdjust="spacingAndGlyphs">15 Feb 08:00</text>
</g>
</svg>
</body></html>
